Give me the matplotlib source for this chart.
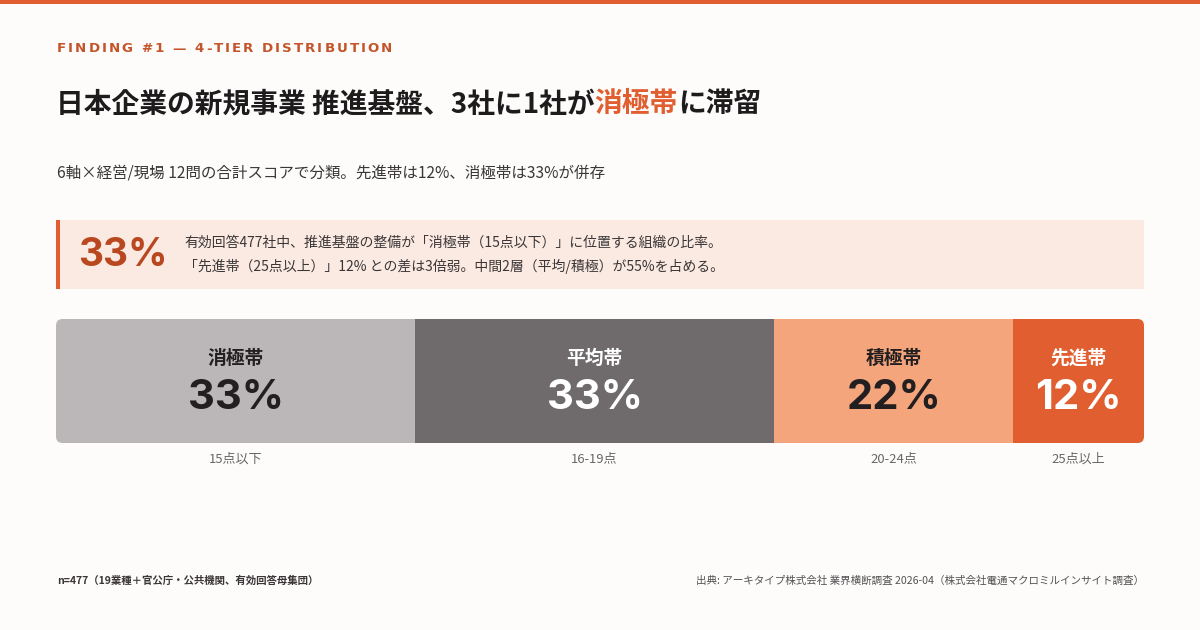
import matplotlib
matplotlib.use("Agg")
import matplotlib.pyplot as plt
from matplotlib.patches import FancyBboxPatch, Rectangle

plt.rcParams['font.family'] = ['Noto Sans CJK JP', 'DejaVu Sans']

# data
tiers = ["消極帯", "平均帯", "積極帯", "先進帯"]
shares = [33, 33, 22, 12]
ranges = ["15点以下", "16-19点", "20-24点", "25点以上"]
colors = ["#BBB7B9", "#6F6B6D", "#F4A57C", "#E05E2F"]
text_colors = ["#231F20", "#FFFFFF", "#231F20", "#FFFFFF"]

kicker = "FINDING #1 — 4-TIER DISTRIBUTION"
title_parts = [("日本企業の新規事業 推進基盤、3社に1社が", "#1E1B1C"),
               ("消極帯", "#E05E2F"),
               ("に滞留", "#1E1B1C")]
subtitle = "6軸×経営/現場 12問の合計スコアで分類。先進帯は12%、消極帯は33%が併存"
callout_value = "33%"
callout_lines = ["有効回答477社中、推進基盤の整備が「消極帯（15点以下）」に位置する組織の比率。",
                 "「先進帯（25点以上）」12% との差は3倍弱。中間2層（平均/積極）が55%を占める。"]
note_left = "n=477（19業種＋官公庁・公共機関、有効回答母集団）"
note_right = "出典: アーキタイプ株式会社 業界横断調査 2026-04（株式会社電通マクロミルインサイト調査）"

W, H = 1200, 630
fig = plt.figure(figsize=(W / 100, H / 100), dpi=100, facecolor="#FDFCFB")
ax = fig.add_axes([0, 0, 1, 1])
ax.set_xlim(0, W)
ax.set_ylim(H, 0)
ax.axis("off")
renderer = fig.canvas.get_renderer()


def px_width(t):
    bb = t.get_window_extent(renderer=renderer)
    return bb.width


# top accent line
ax.add_patch(Rectangle((0, 0), W, 3.5, color="#E05E2F", lw=0))

# kicker with letter spacing
x = 57
for ch in kicker:
    t = ax.text(x, 49, ch, fontsize=9.6, fontweight="bold", color="#C4552B",
                family=["DejaVu Sans"], va="center", ha="left")
    x += px_width(t) + 2.0

# title with coloured word
x = 56
for part, col in title_parts:
    t = ax.text(x, 104, part, fontsize=20, fontweight="bold", color=col,
                va="center", ha="left")
    x += px_width(t)

ax.text(57, 173, subtitle, fontsize=11.2, color="#3A3637", va="center", ha="left")

# callout box
ax.add_patch(Rectangle((56, 220), 1088, 69, color="#FBEAE2", lw=0))
ax.add_patch(Rectangle((56, 220), 3.5, 69, color="#E05E2F", lw=0))
ax.text(78, 256, callout_value, fontsize=28, fontweight="bold", color="#B9471F",
        family=["Inter", "DejaVu Sans"], va="center", ha="left")
ax.text(184, 243, callout_lines[0], fontsize=10, color="#3A3637", va="center", ha="left")
ax.text(184, 266, callout_lines[1], fontsize=10, color="#3A3637", va="center", ha="left")

# stacked bar
bx0, bx1, by0, by1 = 56, 1144, 319, 443
bax = fig.add_axes([bx0 / W, 1 - by1 / H, (bx1 - bx0) / W, (by1 - by0) / H])
bax.set_xlim(0, sum(shares))
bax.set_ylim(0, 1)
bax.axis("off")
clip = FancyBboxPatch((0, 0), sum(shares), 1,
                      boxstyle="round,pad=0,rounding_size=0.6",
                      mutation_aspect=(1 / 124) / (sum(shares) / 1088),
                      transform=bax.transData, facecolor="none", edgecolor="none")
bax.add_patch(clip)
left = 0
for name, val, rng, col, tc in zip(tiers, shares, ranges, colors, text_colors):
    bars = bax.barh(0.5, val, left=left, height=1, color=col, lw=0)
    for b in bars:
        b.set_clip_path(clip)
    cx = left + val / 2
    bax.text(cx, 1 - (358 - by0) / 124, name, fontsize=13.5, fontweight="bold",
             color=tc, ha="center", va="center")
    bax.text(cx, 1 - (398 - by0) / 124, f"{val}%", fontsize=30, fontweight="bold",
             color=tc, family=["Inter", "DejaVu Sans"], ha="center", va="center")
    bax.text(cx, 1 - (459 - by0) / 124, rng, fontsize=9.4, color="#6A6667",
             ha="center", va="center", clip_on=False)
    left += val

# footer
ax.text(57, 581, note_left, fontsize=7.5, fontweight="bold", color="#3A3637",
        va="center", ha="left")
ax.text(1144, 581, note_right, fontsize=7.6, color="#555152", va="center", ha="right")

fig.savefig("out.png", dpi=100, facecolor=fig.get_facecolor())
